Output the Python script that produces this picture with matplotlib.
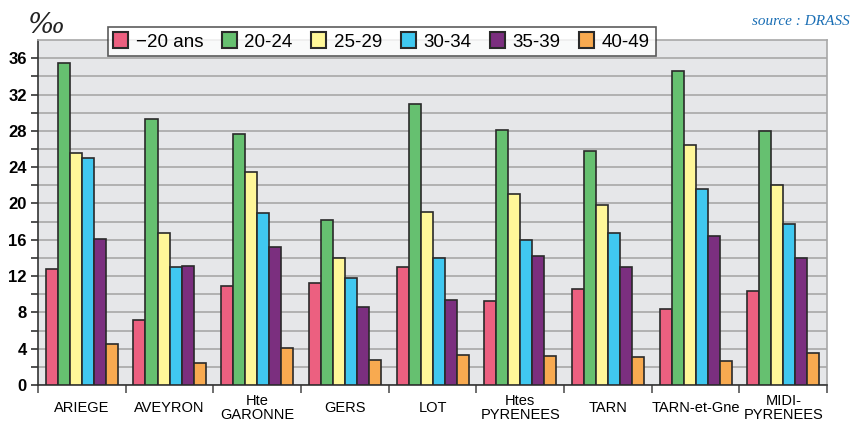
import matplotlib
matplotlib.use("Agg")
import matplotlib.pyplot as plt
import numpy as np
from matplotlib.patches import Patch

regions = ["ARIEGE", "AVEYRON", "Hte\nGARONNE", "GERS", "LOT", "Htes\nPYRENEES",
           "TARN", "TARN-et-Gne", "MIDI-\nPYRENEES"]
series_names = ["\u221220 ans", "20-24", "25-29", "30-34", "35-39", "40-49"]
v_m20 = [12.8, 7.2, 10.9, 11.2, 13.0, 9.3, 10.6, 8.4, 10.4]
v_2024 = [35.5, 29.3, 27.6, 18.2, 31.0, 28.1, 25.8, 34.6, 28.0]
v_2529 = [25.6, 16.7, 23.5, 14.0, 19.1, 21.1, 19.8, 26.4, 22.0]
v_3034 = [25.0, 13.0, 18.9, 11.8, 14.0, 16.0, 16.7, 21.6, 17.7]
v_3539 = [16.1, 13.1, 15.2, 8.6, 9.4, 14.2, 13.0, 16.4, 14.0]
v_4049 = [4.5, 2.4, 4.1, 2.8, 3.3, 3.2, 3.1, 2.6, 3.5]
yticks = [0, 4, 8, 12, 16, 20, 24, 28, 32, 36]

series = [v_m20, v_2024, v_2529, v_3034, v_3539, v_4049]
colors = ["#EC6080", "#66C070", "#FFF799", "#40C8F0", "#7B2F7F", "#F8AA50"]

plt.rcParams['font.family'] = ['Liberation Sans', 'DejaVu Sans']

fig = plt.figure(figsize=(8.54, 4.26), dpi=100)
ax = fig.add_axes([0.0445, 0.096, 0.924, 0.81])
ax.set_facecolor("#E6E7E9")

x = np.arange(len(regions))
w = 0.137
for i, (vals, c) in enumerate(zip(series, colors)):
    ax.bar(x + (i - 2.5) * w, vals, width=w, color=c, edgecolor="#2a2a2a",
           linewidth=1.2, zorder=3)

ax.set_xlim(-0.5, len(regions) - 0.5)
ax.set_ylim(0, 38)
ax.set_yticks(yticks)
ax.set_yticks(np.arange(0, 38, 2), minor=True)
ax.grid(axis='y', which='both', color="#A8A8A8", linewidth=1.2, zorder=0)
ax.set_axisbelow(True)
ax.set_yticklabels([str(t) for t in yticks], fontsize=12, fontweight='bold')
ax.tick_params(axis='y', which='both', length=5, color="#333333", width=1.2, pad=3)

ax.set_xticks(x)
ax.set_xticklabels(regions, fontsize=10.5, linespacing=1.05)
for lab in ax.get_xticklabels():
    lab.set_verticalalignment('center')
ax.tick_params(axis='x', which='major', length=0, pad=16.5)
ax.set_xticks(np.arange(-0.5, len(regions), 1.0), minor=True)
ax.tick_params(axis='x', which='minor', length=6, color="#555555", width=1.2)

for s in ["top", "right"]:
    ax.spines[s].set_color("#A8A8A8")
    ax.spines[s].set_linewidth(1.2)
for s in ["left", "bottom"]:
    ax.spines[s].set_color("#333333")
    ax.spines[s].set_linewidth(1.2)

handles = [Patch(facecolor=c, edgecolor="#2a2a2a", linewidth=1.5) for c in colors]
leg = fig.legend(handles, series_names, loc="upper left", bbox_to_anchor=(0.126, 0.937),
                 ncol=6, frameon=True, fancybox=False, fontsize=13.5, borderaxespad=0,
                 handlelength=0.8, handleheight=0.9, handletextpad=0.4,
                 columnspacing=1.0, borderpad=0.3, edgecolor="#333333")
leg.get_frame().set_linewidth(1.2)
leg.set_zorder(10)

fig.text(0.033, 0.94, "\u2030", fontsize=20, style='italic', family=['DejaVu Serif'],
         color="#222222", va='center')
fig.text(0.995, 0.95, "source : DRASS", fontsize=11, style='italic',
         family=['Liberation Serif', 'DejaVu Serif'], color="#1B6FB5", ha='right', va='center')

fig.savefig("out.png", dpi=100, facecolor="white")
